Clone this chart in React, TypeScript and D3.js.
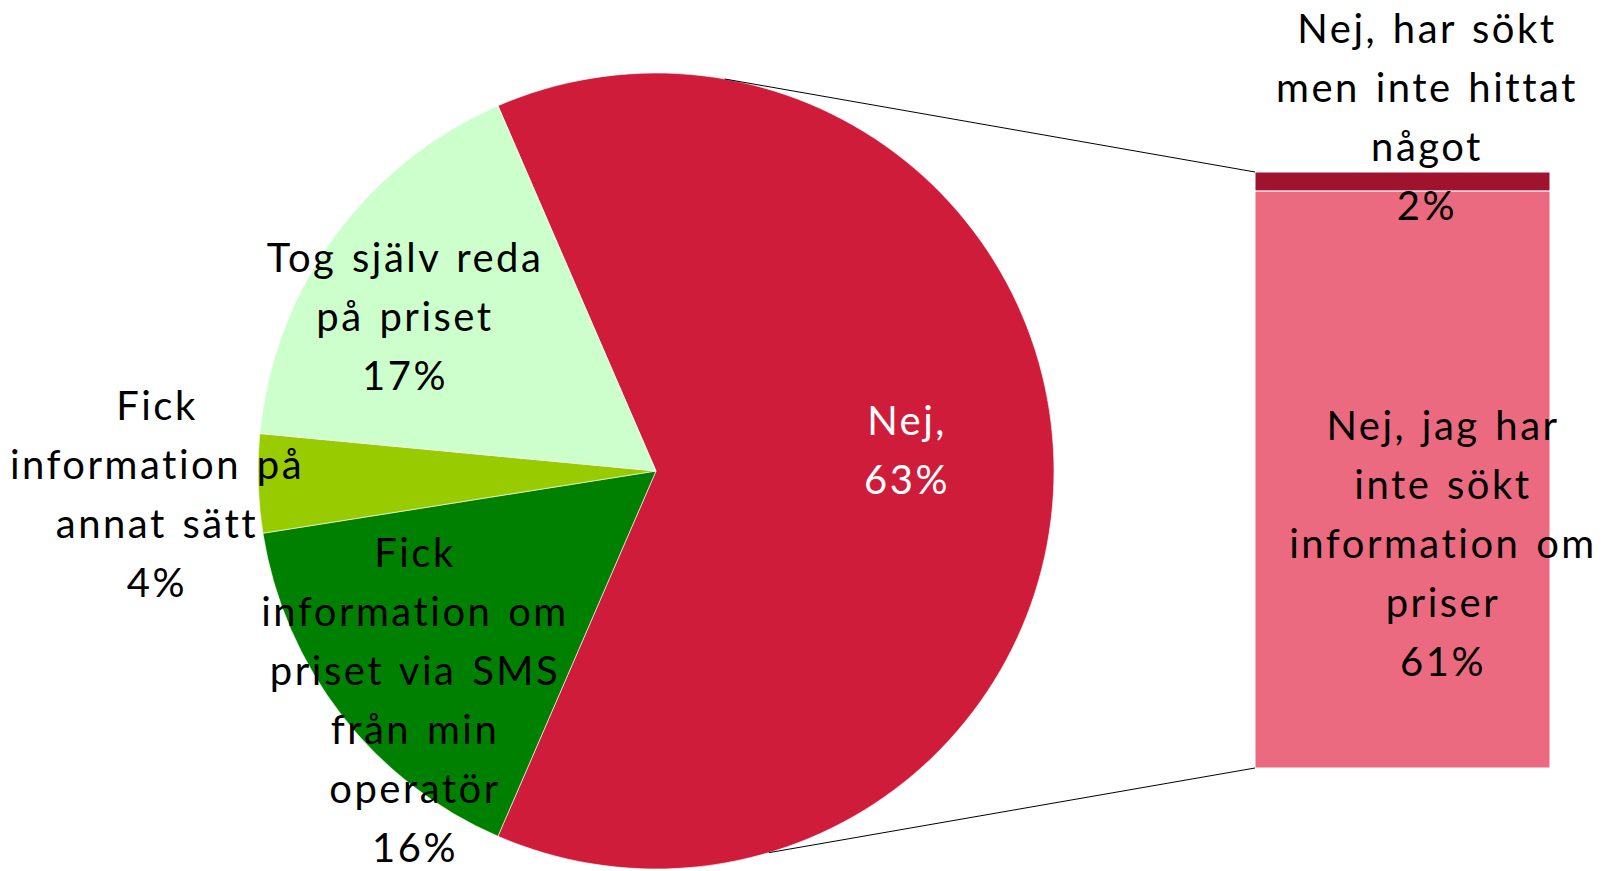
import { useEffect, useRef } from "react";
import * as d3 from "d3";

// pie slices, clockwise from the split slice
const pieLabels = [
  ["Nej,", "63%"],
  ["Fick", "information om", "priset via SMS", "från min", "operatör", "16%"],
  ["Fick", "information på", "annat sätt", "4%"],
  ["Tog själv reda", "på priset", "17%"],
];
const pieValues = [63, 16, 4, 17];
const pieColors = ["#D01C3B", "#008000", "#99CC00", "#CCFFCC"];

// bar that breaks down the "Nej" slice, bottom to top
const barLabels = [
  ["Nej, jag har", "inte sökt", "information om", "priser", "61%"],
  ["Nej, har sökt", "men inte hittat", "något", "2%"],
];
const barValues = [61, 2];
const barColors = ["#EB6A80", "#A0132E"];

const W = 1616;
const H = 871;
const cx = 656;
const cy = 471;
const R = 398;
const bar = { x0: 1255, x1: 1550, top: 172, bottom: 768 };
const lineH = 59;

// label anchor (centre x, first baseline) per slice / bar segment
const pieLabelPos = [
  { x: 907, y: 435, fill: "#fff" },
  { x: 415, y: 567, fill: "#000" },
  { x: 157, y: 420, fill: "#000" },
  { x: 405, y: 272, fill: "#000" },
];
const barLabelPos = [
  { x: 1443, y: 440 },
  { x: 1427, y: 43 },
];

export default function App() {
  const ref = useRef<SVGSVGElement>(null);

  useEffect(() => {
    const svg = d3.select(ref.current);
    svg.selectAll("*").remove();

    const total = d3.sum(pieValues);
    const start = Math.PI / 2 - (pieValues[0] / total) * Math.PI;
    const pie = d3
      .pie<number>()
      .sort(null)
      .startAngle(start)
      .endAngle(start + 2 * Math.PI);
    const arc = d3.arc<d3.PieArcDatum<number>>().innerRadius(0).outerRadius(R);

    const g = svg.append("g").attr("transform", `translate(${cx},${cy})`);
    g.selectAll("path")
      .data(pie(pieValues))
      .join("path")
      .attr("d", arc)
      .attr("fill", (_, i) => pieColors[i])
      .attr("stroke", "#fff")
      .attr("stroke-width", 0.6);

    // bar
    const barTotal = d3.sum(barValues);
    const y = d3.scaleLinear().domain([0, barTotal]).range([bar.bottom, bar.top]);
    const stacked = barValues.map((v, i) => {
      const lo = d3.sum(barValues.slice(0, i));
      return { lo, hi: lo + v };
    });
    svg
      .append("g")
      .selectAll("rect")
      .data(stacked)
      .join("rect")
      .attr("x", bar.x0)
      .attr("width", bar.x1 - bar.x0)
      .attr("y", (d) => y(d.hi))
      .attr("height", (d) => y(d.lo) - y(d.hi))
      .attr("fill", (_, i) => barColors[i])
      .attr("stroke", "#fff")
      .attr("stroke-width", 1);

    // connector lines from the pie edge to the bar corners
    const tangent = (px: number, py: number, upper: boolean) => {
      const dx = px - cx;
      const dy = py - cy;
      const d = Math.hypot(dx, dy);
      const base = Math.atan2(dy, dx);
      const off = Math.acos(R / d);
      const a = upper ? base - off : base + off - 0.11;
      return [cx + R * Math.cos(a), cy + R * Math.sin(a)];
    };
    const [tx, ty] = tangent(bar.x0, y(barTotal), true);
    const [bx, by] = tangent(bar.x0, y(0), false);
    svg
      .append("line")
      .attr("x1", tx).attr("y1", ty)
      .attr("x2", bar.x0).attr("y2", y(barTotal))
      .attr("stroke", "#000").attr("stroke-width", 1);
    svg
      .append("line")
      .attr("x1", bx).attr("y1", by)
      .attr("x2", bar.x0).attr("y2", y(0))
      .attr("stroke", "#000").attr("stroke-width", 1);

    const drawLabel = (lines: string[], pos: { x: number; y: number; fill?: string }) => {
      const t = svg
        .append("text")
        .attr("text-anchor", "middle")
        .attr("font-family", "Lato, 'Open Sans', sans-serif")
        .attr("font-size", 40)
        .attr("letter-spacing", 2.5)
        .attr("word-spacing", 3)
        .attr("fill", pos.fill || "#000");
      lines.forEach((l, i) => {
        t.append("tspan").attr("x", pos.x).attr("y", pos.y + i * lineH).text(l);
      });
    };
    pieLabels.forEach((l, i) => drawLabel(l, pieLabelPos[i]));
    barLabels.forEach((l, i) => drawLabel(l, barLabelPos[i]));
  }, []);

  return (
    <svg
      ref={ref}
      width={W}
      height={H}
      style={{ position: "absolute", left: 0, top: 0, display: "block", background: "#fff" }}
    />
  );
}
